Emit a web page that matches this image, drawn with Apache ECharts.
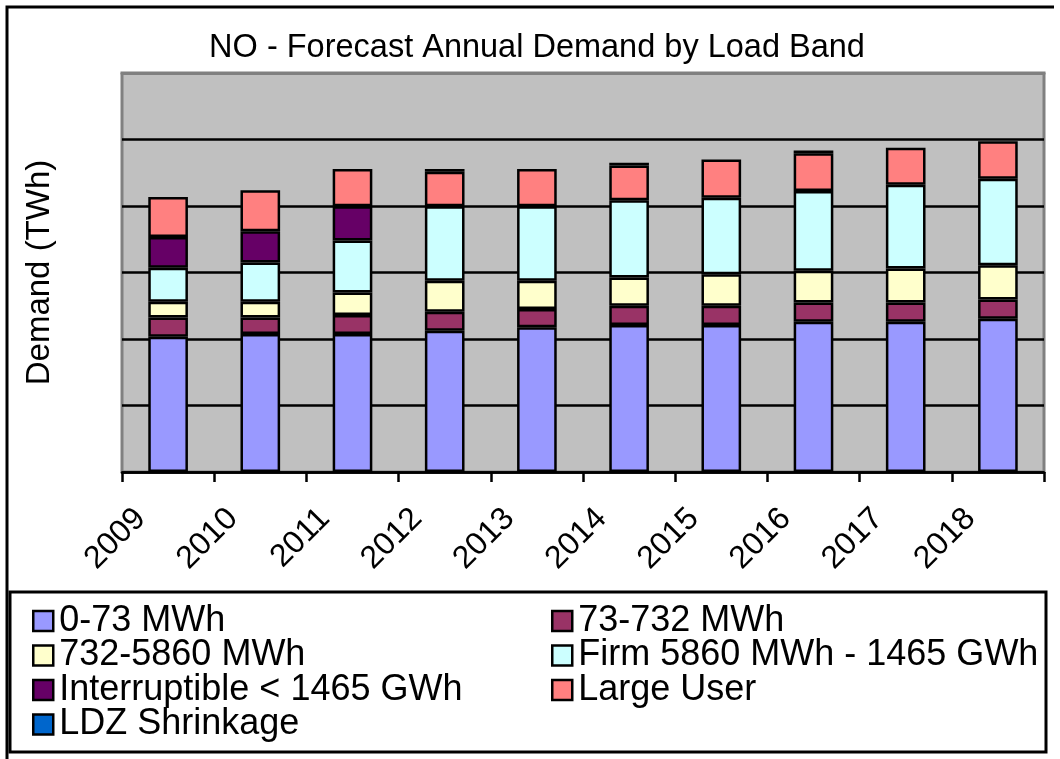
<!DOCTYPE html>
<html>
<head>
<meta charset="utf-8">
<script src="https://cdn.jsdelivr.net/npm/echarts@6/dist/echarts.min.js"></script>
<style>html,body{margin:0;padding:0;background:#fff;}#c{width:1060px;height:759px;}</style>
</head>
<body>
<div id="c"></div>
<script>
var years = ['2009','2010','2011','2012','2013','2014','2015','2016','2017','2018'];
var band0_73 = [20.35, 20.75, 20.75, 21.25, 21.75, 22.1, 22.1, 22.6, 22.6, 23.05];
var band73_732 = [2.9, 2.5, 2.85, 2.85, 2.75, 2.9, 2.9, 2.9, 2.9, 2.9];
var band732_5860 = [2.35, 2.35, 3.4, 4.65, 4.25, 4.25, 4.75, 4.75, 5.1, 5.15];
var firm = [5.1, 5.9, 7.8, 11.2, 11.2, 11.6, 11.5, 12.0, 12.6, 13.0];
var interruptible = [4.65, 4.7, 5.15, '-', '-', '-', '-', '-', '-', '-'];
var largeUser = [6.0, 6.15, 5.6, 5.2, 5.6, 5.25, 5.75, 5.7, 5.55, 5.65];
var ldz = ['-', '-', '-', 0.4, '-', 0.4, '-', 0.4, '-', '-'];

var FONT = "'Liberation Sans', Arial, sans-serif";
var names = ['0-73 MWh','73-732 MWh','732-5860 MWh','Firm 5860 MWh - 1465 GWh','Interruptible < 1465 GWh','Large User','LDZ Shrinkage'];
var colors = ['#9999FF','#993366','#FFFFCC','#CCFFFF','#660066','#FF8080','#0066CC'];
var dataSets = [band0_73, band73_732, band732_5860, firm, interruptible, largeUser, ldz];

var series = names.map(function(n, i){
  return {
    name: n, type: 'bar', stack: 'total', data: dataSets[i], barWidth: '43%',
    itemStyle: {color: colors[i], borderColor: '#000', borderWidth: 2.5},
    emphasis: {disabled: true}
  };
});

var legendCommon = {
  orient: 'vertical', top: 598, itemGap: -1.5, itemWidth: 20, itemHeight: 20,
  icon: 'rect',
  itemStyle: {borderColor: '#000', borderWidth: 2.5},
  textStyle: {fontFamily: FONT, fontSize: 36, color: '#000', lineHeight: 33, padding: [0, 0, 0, 1]}
};

var chart = echarts.init(document.getElementById('c'));
chart.setOption({
  animation: false,
  backgroundColor: '#fff',
  color: colors,
  title: {
    text: 'NO - Forecast Annual Demand by Load Band',
    left: 532, top: 27, textAlign: 'center',
    textStyle: {fontFamily: FONT, fontSize: 32.5, fontWeight: 'normal', color: '#000'}
  },
  legend: [
    Object.assign({}, legendCommon, {left: 27, data: ['0-73 MWh','732-5860 MWh','Interruptible < 1465 GWh','LDZ Shrinkage']}),
    Object.assign({}, legendCommon, {left: 546, data: ['73-732 MWh','Firm 5860 MWh - 1465 GWh','Large User']})
  ],
  grid: {
    left: 122, right: 16, top: 73, bottom: 287,
    show: true, backgroundColor: '#C0C0C0', borderColor: '#808080', borderWidth: 3
  },
  xAxis: [{
    type: 'category', data: years, position: 'bottom',
    axisLine: {lineStyle: {color: '#000', width: 2.5}},
    axisTick: {show: true, length: 10, lineStyle: {color: '#000', width: 2.5}},
    axisLabel: {
      interval: 0, rotate: 45, margin: 14, padding: [0, 39, 0, 0],
      fontFamily: FONT, fontSize: 32, color: '#000'
    }
  }, {
    type: 'category', data: years, position: 'top',
    axisLine: {lineStyle: {color: '#808080', width: 3}},
    axisTick: {show: false}, axisLabel: {show: false}
  }],
  yAxis: {
    type: 'value', min: 0, max: 60, interval: 10,
    name: 'Demand (TWh)', nameLocation: 'middle', nameGap: 66,
    nameTextStyle: {fontFamily: FONT, fontSize: 33, color: '#000'},
    axisLine: {show: false}, axisTick: {show: false}, axisLabel: {show: false},
    splitLine: {show: true, lineStyle: {color: '#000', width: 2.5}}
  },
  graphic: [
    {type: 'polyline', shape: {points: [[7, 759], [7, 7], [1054, 7]]}, style: {stroke: '#000', lineWidth: 3, fill: null}, z: 100},
    {type: 'rect', shape: {x: 10, y: 592, width: 1036, height: 160}, style: {stroke: '#000', lineWidth: 3, fill: null}, z: 100}
  ],
  series: series
});
</script>
</body>
</html>
